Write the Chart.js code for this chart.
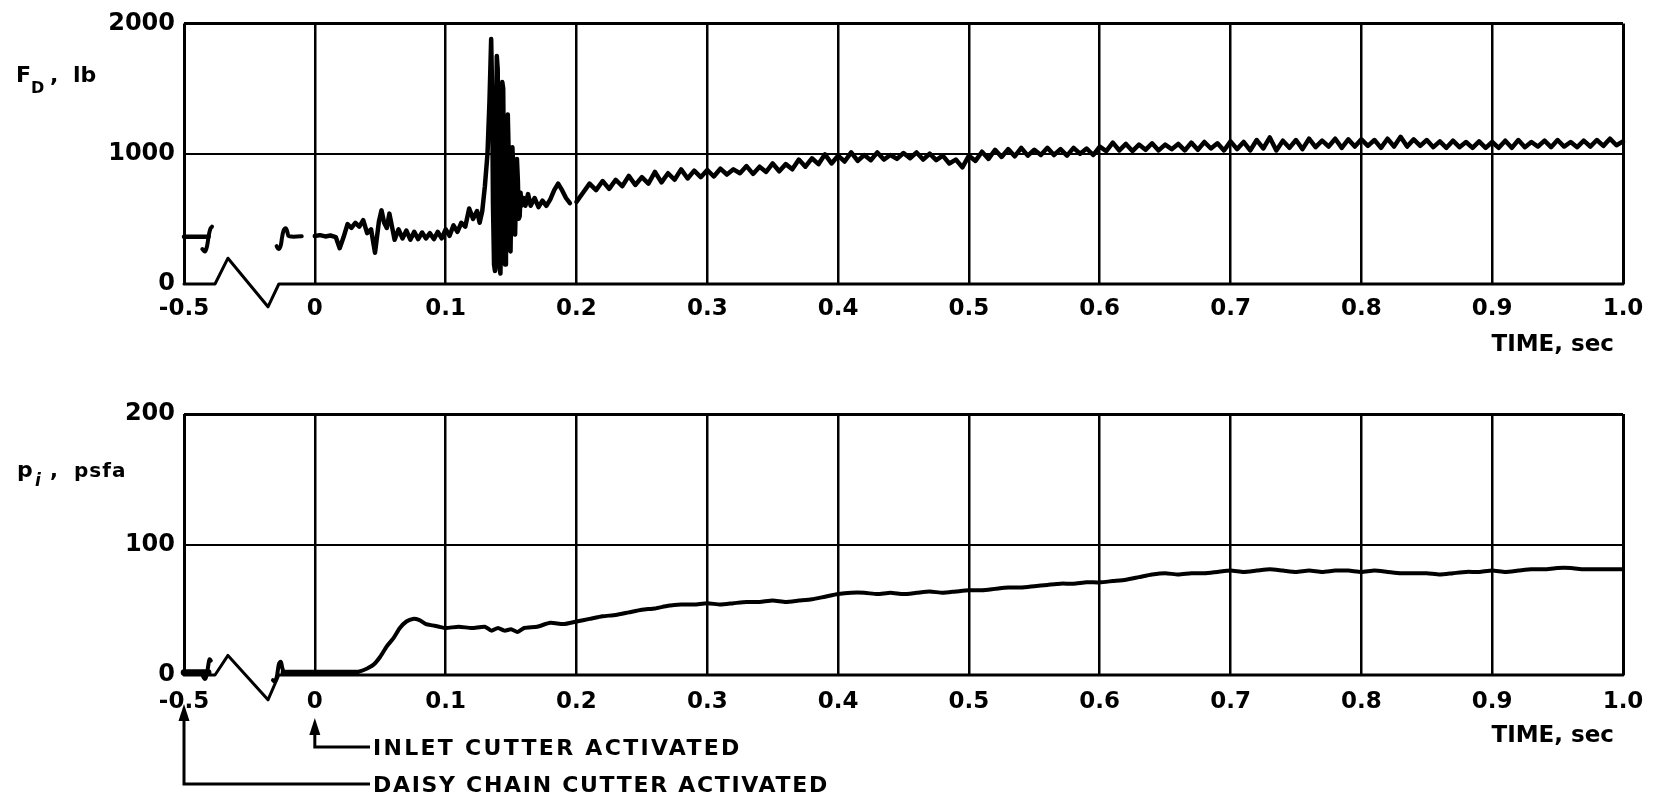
<!DOCTYPE html>
<html><head><meta charset="utf-8">
<script src="https://cdn.jsdelivr.net/npm/chart.js@4.4.1/dist/chart.umd.min.js"></script>
<style>
html,body{margin:0;padding:0;background:#fff;}
#wrap{position:relative;width:1658px;height:797px;overflow:hidden;background:#fff;}
canvas{position:absolute;left:0;}
</style></head><body>
<div id="wrap">
<canvas id="cTop" width="1658" height="390" style="top:0px"></canvas>
<canvas id="cBot" width="1658" height="407" style="top:390px"></canvas>
</div>
<script>
// ---------- axis ticks ----------
const xTickPos = [-0.1, 0, 0.1, 0.2, 0.3, 0.4, 0.5, 0.6, 0.7, 0.8, 0.9, 1.0];
const xTickLabels = ['-0.5', '0', '0.1', '0.2', '0.3', '0.4', '0.5', '0.6', '0.7', '0.8', '0.9', '1.0'];
const fdTicks = [0, 1000, 2000];
const piTicks = [0, 100, 200];

// ---------- axis break (zigzag) ----------
const breakT = [-0.1, -0.0763, -0.0664, -0.0358, -0.0275, 1.0];
const fdBreakV = [0, 0, 198, -175, 0, 0];
const piBreakV = [0, 0, 15, -19, 0, 0];

// ---------- F_D, lb ----------
const fdPreT = [-0.1, -0.0812];
const fdPreV = [362, 362];
const fdS1T = [-0.0786, -0.0798, -0.0812, -0.0824, -0.0840, -0.0860];
const fdS1V = [440, 425, 365, 290, 250, 268];
const fdS2T = [-0.0292, -0.0278, -0.0262, -0.0250, -0.0237, -0.0222, -0.0210, -0.0198, -0.0100];
const fdS2V = [290, 268, 290, 360, 415, 428, 400, 368, 366];

const fdEarlyT = [0.000, 0.004, 0.008, 0.012, 0.016, 0.019, 0.022, 0.025, 0.028, 0.031, 0.034, 0.037, 0.040, 0.043, 0.046, 0.049,
  0.051, 0.053, 0.055, 0.057, 0.059, 0.061, 0.064, 0.067, 0.070, 0.073, 0.076, 0.079, 0.082, 0.085, 0.088, 0.091, 0.094, 0.097,
  0.100, 0.103, 0.106, 0.109, 0.112, 0.115, 0.118, 0.121, 0.124, 0.126, 0.128, 0.1300, 0.1320, 0.1335, 0.1348, 0.1355, 0.1362,
  0.1370, 0.1377, 0.1384, 0.1391, 0.1398, 0.1405, 0.1412, 0.1419, 0.1426, 0.1433, 0.1440, 0.1447, 0.1454, 0.1461, 0.1468,
  0.1475, 0.1482, 0.1489, 0.1496, 0.1503, 0.1510, 0.1517, 0.1524, 0.1531, 0.1538, 0.1545, 0.1552, 0.1559, 0.1566, 0.1573,
  0.1580, 0.1595, 0.161, 0.163, 0.165, 0.168, 0.171, 0.174, 0.177, 0.180, 0.183, 0.186, 0.189, 0.192, 0.195, 0.198];
const fdEarlyV = [368, 375, 365, 372, 360, 275, 360, 460, 430, 470, 440, 490, 390, 420, 240, 480,
  565, 470, 430, 540, 440, 340, 420, 350, 410, 340, 400, 345, 395, 350, 390, 345, 400, 350,
  420, 370, 450, 400, 470, 440, 580, 500, 560, 470, 560, 750, 1000, 1400, 1880, 1500, 600,
  150, 100, 900, 1750, 1650, 800, 120, 80, 700, 1550, 1500, 700, 150, 200,
  900, 1300, 1000, 350, 250, 700, 1050, 900, 420, 380, 700, 960, 800, 500, 520,
  700, 600, 660, 600, 690, 600, 660, 590, 640, 600, 650, 720, 770, 720, 660, 620];

const fdLateStart = 0.2;
const fdLateStep = 0.005;
const fdLateV = [630, 700, 770, 720, 790, 730, 800, 750, 830, 760, 820, 770, 860, 780, 850, 800, 880, 810, 870, 820,
  875, 825, 885, 840, 880, 850, 905, 845, 900, 860, 925, 865, 920, 880, 955, 900, 965, 920, 995, 925,
  985, 940, 1010, 945, 990, 950, 1010, 955, 990, 960, 1005, 965, 1010, 955, 1000, 950, 985, 925, 955, 895,
  985, 945, 1015, 960, 1030, 975, 1035, 980, 1045, 985, 1030, 990, 1045, 990, 1035, 985, 1045, 1000, 1040, 990,
  1055, 1020, 1085, 1025, 1075, 1020, 1070, 1030, 1080, 1025, 1070, 1035, 1075, 1025, 1085, 1030, 1090, 1040, 1080, 1025,
  1095, 1035, 1090, 1025, 1105, 1040, 1125, 1025, 1100, 1045, 1105, 1035, 1115, 1050, 1100, 1055, 1115, 1045, 1110, 1055,
  1110, 1060, 1105, 1045, 1115, 1055, 1130, 1055, 1110, 1060, 1105, 1050, 1095, 1045, 1100, 1050, 1090, 1045, 1095, 1045,
  1090, 1045, 1100, 1045, 1105, 1050, 1090, 1055, 1100, 1050, 1105, 1055, 1090, 1050, 1100, 1055, 1105, 1060, 1115, 1065,
  1095];

// ---------- p_i, psfa ----------
const piPreT = [-0.1, -0.0815];
const piPreV = [2, 2];
const piS1T = [-0.0795, -0.0805, -0.0815, -0.0825, -0.0838, -0.0855];
const piS1V = [11, 12, 7, 1, -3, -1];
const piS2T = [-0.0320, -0.0306, -0.0292, -0.0282, -0.0272, -0.0260, -0.0250, -0.0240];
const piS2V = [-4, -5, -2, 4, 9, 10, 6, 2];
const piBlobT = [-0.0240, -0.010, 0.000, 0.010, 0.020, 0.032];
const piBlobV = [2, 2, 2, 2, 2, 2];

const piEarlyT = [0.000, 0.010, 0.020, 0.030, 0.035, 0.040, 0.045, 0.050, 0.055, 0.060, 0.065, 0.070, 0.075, 0.080,
  0.085, 0.090, 0.095, 0.100, 0.110, 0.120, 0.130, 0.135, 0.140, 0.145, 0.150, 0.155, 0.160, 0.170, 0.180, 0.190];
const piEarlyV = [2, 2, 2, 2, 3, 5, 8, 14, 22, 28, 36, 41, 43, 42,
  39, 38, 37, 36, 37, 36, 37, 34, 36, 34, 35, 33, 36, 37, 40, 39];
const piLateStart = 0.2;
const piLateStep = 0.01;
const piLateV = [41, 43, 45, 46, 48, 50, 51, 53, 54, 54, 55, 54, 55, 56, 56, 57, 56, 57, 58, 60,
  62, 63, 63, 62, 63, 62, 63, 64, 63, 64, 65, 65, 66, 67, 67, 68, 69, 70, 70, 71,
  71, 72, 73, 75, 77, 78, 77, 78, 78, 79, 80, 79, 80, 81, 80, 79, 80, 79, 80, 80,
  79, 80, 79, 78, 78, 78, 77, 78, 79, 79, 80, 79, 80, 81, 81, 82, 82, 81, 81, 81, 81];

// ---------- helpers ----------
function pts(ts, vs) { return ts.map((t, i) => ({ x: t, y: vs[i] })); }
function stepPts(start, step, vs) { return vs.map((v, i) => ({ x: +(start + i * step).toFixed(4), y: v })); }

const FONT = '"DejaVu Sans", "Liberation Sans", sans-serif';

function line(data, width, extra) {
  return Object.assign({
    data: data, borderColor: '#000', backgroundColor: '#000', borderWidth: width,
    pointRadius: 0, fill: false, tension: 0, clip: false,
    borderJoinStyle: 'round', borderCapStyle: 'round'
  }, extra || {});
}

const extraPlugin = {
  id: 'extraText',
  afterDraw(chart, args, opts) {
    const ctx = chart.ctx;
    ctx.save();
    ctx.fillStyle = '#000';
    ctx.strokeStyle = '#000';
    (opts.arrows || []).forEach(a => {
      const x = chart.scales.x.getPixelForValue(a.value);
      ctx.lineWidth = 3;
      ctx.beginPath();
      ctx.moveTo(x, a.tipY + 12);
      ctx.lineTo(x, a.cornerY);
      ctx.lineTo(a.endX, a.cornerY);
      ctx.stroke();
      ctx.beginPath();
      ctx.moveTo(x, a.tipY);
      ctx.lineTo(x - 5.5, a.tipY + 17);
      ctx.lineTo(x + 5.5, a.tipY + 17);
      ctx.closePath();
      ctx.fill();
    });
    (opts.items || []).forEach(it => {
      ctx.font = it.font;
      ctx.textAlign = it.align || 'left';
      ctx.textBaseline = 'alphabetic';
      ctx.letterSpacing = it.ls || '0px';
      ctx.fillText(it.text, it.x, it.y);
    });
    ctx.letterSpacing = '0px';
    ctx.restore();
  }
};

function makeChart(id, cfg) {
  const plotBottom = cfg.plotBottom;
  const canvasH = cfg.canvasH;
  return new Chart(document.getElementById(id), {
    type: 'line',
    data: { datasets: cfg.datasets },
    plugins: [extraPlugin],
    options: {
      responsive: false, animation: false, devicePixelRatio: 1,
      layout: { padding: { left: 0, right: 35, top: cfg.plotTop, bottom: 0 } },
      plugins: { legend: { display: false }, tooltip: { enabled: false }, extraText: cfg.extra },
      scales: {
        x: {
          type: 'linear', min: -0.1, max: 1.0,
          afterBuildTicks: s => { s.ticks = xTickPos.map(v => ({ value: v })); },
          afterFit: s => { s.height = canvasH - plotBottom; },
          border: { display: false },
          grid: {
            color: '#000', drawTicks: false,
            lineWidth: c => (c.index === 0 || c.index === xTickPos.length - 1) ? 3 : 2.5
          },
          ticks: {
            autoSkip: false, maxRotation: 0, minRotation: 0, padding: cfg.xPad, color: '#000',
            font: { family: FONT, size: 23, weight: 'bold' },
            callback: (v, i) => xTickLabels[i]
          }
        },
        y: {
          type: 'linear', min: cfg.yTicks[0], max: cfg.yTicks[cfg.yTicks.length - 1],
          afterBuildTicks: s => { s.ticks = cfg.yTicks.map(v => ({ value: v })); },
          afterFit: s => { s.width = 184; },
          border: { display: false },
          grid: {
            drawTicks: false,
            color: c => (c.tick && c.tick.value === 0) ? 'rgba(0,0,0,0)' : '#000',
            lineWidth: c => (c.index === cfg.yTicks.length - 1) ? 3 : 2
          },
          ticks: {
            padding: 9, color: '#000',
            font: { family: FONT, size: 24, weight: 'bold' },
            callback: (v, i) => String(cfg.yTicks[i])
          }
        }
      }
    }
  });
}

// top chart: F_D
makeChart('cTop', {
  plotTop: 21, plotBottom: 284, canvasH: 390, yTicks: fdTicks, xPad: 11,
  datasets: [
    line(pts(breakT, fdBreakV), 3),
    line(pts(fdPreT, fdPreV), 4.5),
    line(pts(fdS1T, fdS1V), 4, { tension: 0.4 }),
    line(pts(fdS2T, fdS2V), 4, { tension: 0.4 }),
    line(pts(fdEarlyT, fdEarlyV).concat(stepPts(fdLateStart, fdLateStep, fdLateV)), 4.5)
  ],
  extra: {
    items: [
      { text: 'F', x: 16, y: 82, font: 'bold 22px ' + FONT },
      { text: 'D', x: 31, y: 93, font: 'bold 16px ' + FONT },
      { text: ',', x: 50, y: 82, font: 'bold 22px ' + FONT },
      { text: 'lb', x: 73, y: 82, font: 'bold 22px ' + FONT },
      { text: 'TIME, sec', x: 1614, y: 351, align: 'right', font: 'bold 23px ' + FONT }
    ]
  }
});

// bottom chart: p_i
makeChart('cBot', {
  plotTop: 24, plotBottom: 285, canvasH: 407, yTicks: piTicks, xPad: 13,
  datasets: [
    line(pts(breakT, piBreakV), 3),
    line(pts(piPreT, piPreV), 6.5),
    line(pts(piS1T, piS1V), 4, { tension: 0.4 }),
    line(pts(piS2T, piS2V), 4, { tension: 0.4 }),
    line(pts(piBlobT, piBlobV), 5.5),
    line(pts(piEarlyT, piEarlyV).concat(stepPts(piLateStart, piLateStep, piLateV)), 4, { tension: 0.2 })
  ],
  extra: {
    arrows: [
      { value: 0, tipY: 328, cornerY: 357, endX: 370 },
      { value: -0.1, tipY: 314, cornerY: 394, endX: 370 }
    ],
    items: [
      { text: 'p', x: 17, y: 87, font: 'bold 22px ' + FONT },
      { text: 'i', x: 35, y: 96, font: 'italic bold 17px ' + FONT },
      { text: ',', x: 50, y: 87, font: 'bold 21px ' + FONT },
      { text: 'psfa', x: 74, y: 87, font: 'bold 20px ' + FONT, ls: '1px' },
      { text: 'TIME, sec', x: 1614, y: 352, align: 'right', font: 'bold 23px ' + FONT },
      { text: 'INLET CUTTER ACTIVATED', x: 373, y: 365, font: 'bold 22px ' + FONT, ls: '2.3px' },
      { text: 'DAISY CHAIN CUTTER ACTIVATED', x: 373, y: 402, font: 'bold 22px ' + FONT, ls: '1.7px' }
    ]
  }
});
</script>
</body></html>
